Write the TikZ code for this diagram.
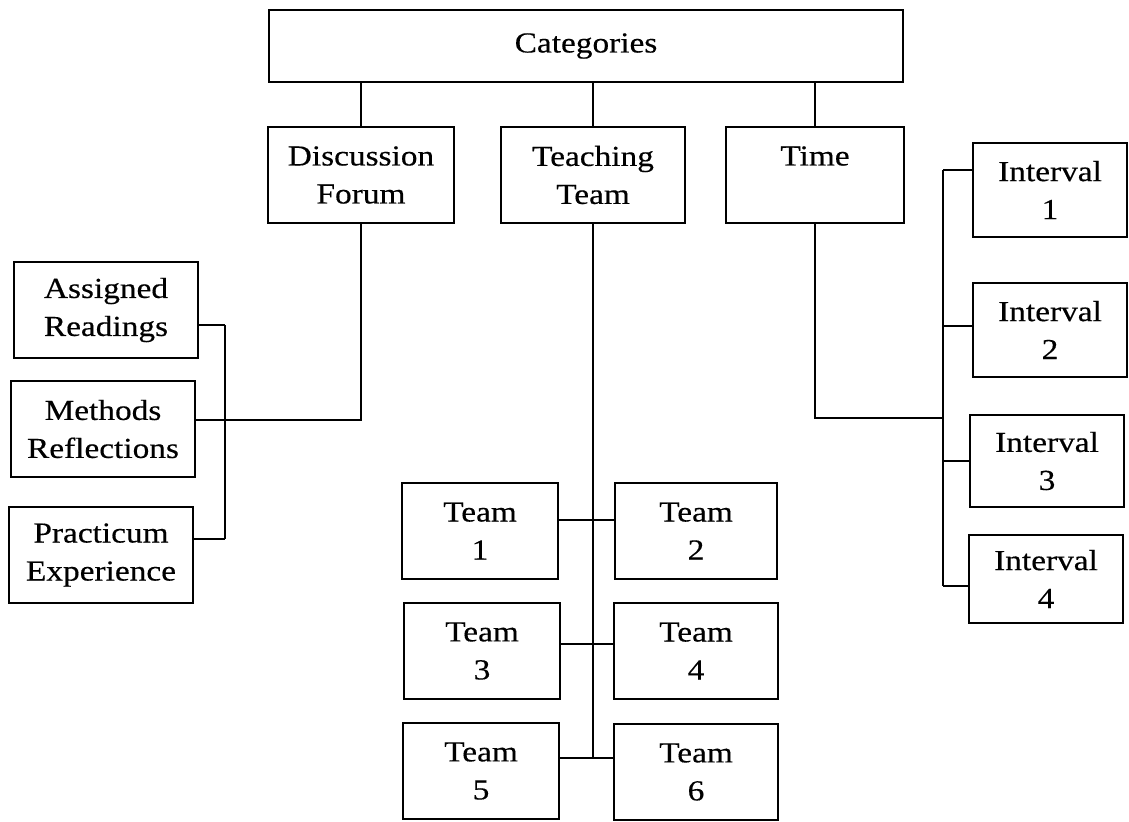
\documentclass[tikz,border=0pt]{standalone}
\usepackage{fontspec}
\setmainfont{Liberation Serif}[FakeStretch=1.15, FakeBold=0.4]

\begin{document}
\begin{tikzpicture}[x=0.5pt, y=-0.5pt, line width=1.4pt,
  box/.style={draw, align=center, inner sep=0pt, minimum width=78pt, minimum height=48pt, font=\fontsize{14.5}{19}\selectfont}]
\useasboundingbox (0,0) rectangle (1129,821);
\node[box, minimum width=317pt, minimum height=36pt] (cat) at (586,46) {Categories};
\node[box, minimum width=93pt] (disc) at (361,175) {Discussion\\Forum};
\node[box, minimum width=92pt] (teach) at (593,175) {Teaching\\Team};
\node[box, minimum width=89pt] (time) at (815,175) {Time\\\phantom{Forum}};
\node[box, minimum width=92pt] (read) at (106,310) {Assigned\\Readings};
\node[box, minimum width=92pt] (meth) at (103,429) {Methods\\Reflections};
\node[box, minimum width=92pt] (prac) at (101,555) {Practicum\\Experience};
\node[box] (team1) at (480,531) {Team\\1};
\node[box, minimum width=81pt] (team2) at (696,531) {Team\\2};
\node[box] (team3) at (482,651) {Team\\3};
\node[box, minimum width=82pt] (team4) at (696,651) {Team\\4};
\node[box] (team5) at (481,771) {Team\\5};
\node[box, minimum width=82pt] (team6) at (696,772) {Team\\6};
\node[box, minimum width=77pt, minimum height=47pt] (int1) at (1050,190) {Interval\\1};
\node[box, minimum width=77pt, minimum height=47pt] (int2) at (1050,330) {Interval\\2};
\node[box, minimum width=77pt, minimum height=46pt] (int3) at (1047,461) {Interval\\3};
\node[box, minimum width=77pt, minimum height=44pt] (int4) at (1046,579) {Interval\\4};
\coordinate (rd) at (225,325);
\coordinate (md) at (225,420);
\coordinate (pd) at (225,539);
\coordinate (t12) at (593,520);
\coordinate (t34) at (593,644);
\coordinate (t56) at (593,758);
\coordinate (i1) at (943,170);
\coordinate (i2) at (943,326);
\coordinate (i3) at (943,461);
\coordinate (i4) at (943,586);
\coordinate (tj) at (943,418);
\draw (cat.south -| disc.north) -- (disc.north);
\draw (cat.south -| teach.north) -- (teach.north);
\draw (cat.south -| time.north) -- (time.north);
\draw (disc.south) |- (md);
\draw (rd) -- (pd);
\draw (read.east |- rd) -- (rd);
\draw (meth.east |- md) -- (md);
\draw (prac.east |- pd) -- (pd);
\draw (teach.south) -- (t56);
\draw (team1.east |- t12) -- (team2.west |- t12);
\draw (team3.east |- t34) -- (team4.west |- t34);
\draw (team5.east |- t56) -- (team6.west |- t56);
\draw (time.south) |- (tj);
\draw (i1) -- (i4);
\draw (int1.west |- i1) -- (i1);
\draw (int2.west |- i2) -- (i2);
\draw (int3.west |- i3) -- (i3);
\draw (int4.west |- i4) -- (i4);
\end{tikzpicture}
\end{document}
